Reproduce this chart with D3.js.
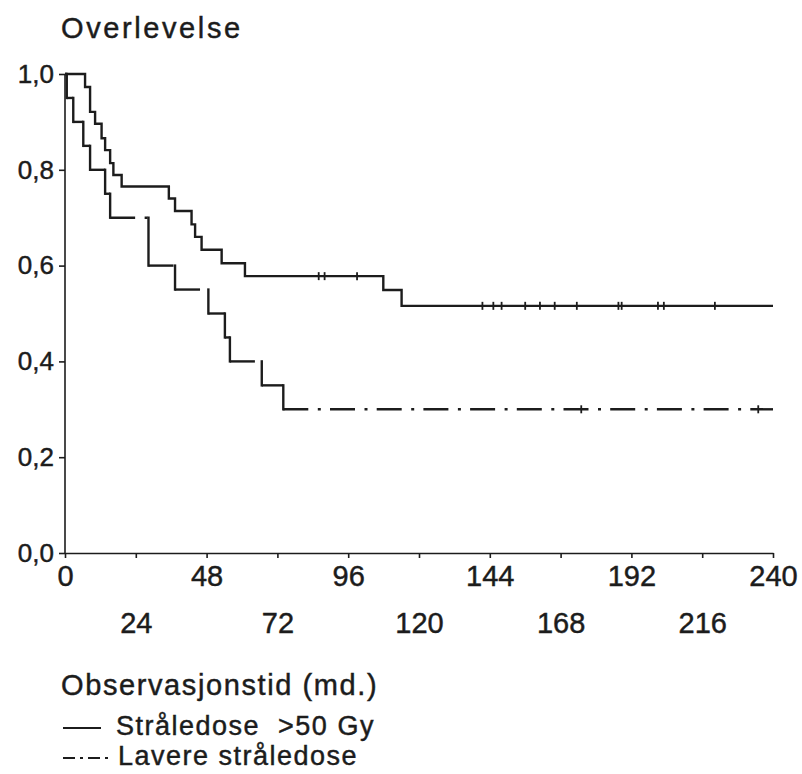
<!DOCTYPE html>
<html>
<head>
<meta charset="utf-8">
<script src="https://cdn.jsdelivr.net/npm/d3@7"></script>
<style>
  body { margin: 0; background: #fff; }
  svg { display: block; font-family: "Liberation Sans", Arial, sans-serif; }
  svg text { fill: #1c1c1c; stroke: #1c1c1c; stroke-width: 0.45px; white-space: pre; }
  .curve { fill: none; stroke: #1c1c1c; stroke-width: 2.4; }
  .axis path, .axis line { stroke: #1c1c1c; stroke-width: 1.6; }
</style>
</head>
<body>
<svg id="chart" width="802" height="774"></svg>
<script>
// survival curves (months, survival proportion)
var highTimes = [6.8, 8.5, 10.2, 12.4, 13.6, 15.3, 16.4, 19.2, 35.2, 37.3, 42.9, 44.1, 46.3, 53.1, 61.0, 107.9, 114.1];
var highSurv  = [0.973, 0.921, 0.896, 0.866, 0.841, 0.814, 0.789, 0.765, 0.740, 0.714, 0.686, 0.660, 0.633, 0.605, 0.578, 0.549, 0.516];
var highCensor = [86, 88, 99, 141.5, 145.2, 148, 156, 161, 166, 173.5, 187.6, 188.7, 201, 203, 220.3];

var lowTimes = [0.6, 2.8, 6.2, 8.5, 13.6, 15.3, 28.3, 37.3, 48.6, 54.2, 55.9, 66.7, 74.0];
var lowSurv  = [0.95, 0.90, 0.85, 0.80, 0.75, 0.70, 0.60, 0.55, 0.50, 0.45, 0.40, 0.35, 0.30];
var lowCensor = [175, 235];

var xTicksTop = [0, 48, 96, 144, 192, 240];
var xTicksBottom = [24, 72, 120, 168, 216];
var yTicks = [0, 0.2, 0.4, 0.6, 0.8, 1.0];

var legendLabels = ["Stråledose  >50 Gy", "Lavere stråledose"];

var svg = d3.select("#chart");
var x = d3.scaleLinear().domain([0, 240]).range([65, 773]);
var y = d3.scaleLinear().domain([0, 1]).range([553, 74]);

// turn event lists into step points
function stepPoints(times, surv) {
    var pts = [[0, 1]];
    times.forEach(function(t, i) { pts.push([t, surv[i]]); });
    pts.push([240, surv[surv.length - 1]]);
    return pts;
}
function survAt(times, surv, t) {
    var s = 1;
    times.forEach(function(tt, i) { if (tt <= t) s = surv[i]; });
    return s;
}

// axes
var yAxis = d3.axisLeft(y)
    .tickValues(yTicks)
    .tickSize(6)
    .tickPadding(5)
    .tickFormat(function(d) { return d3.format(".1f")(d).replace(".", ","); });
svg.append("g")
    .attr("class", "axis")
    .attr("transform", "translate(65,0)")
    .call(yAxis)
    .call(function(g) { g.select(".domain").attr("d", "M0," + y(0) + "V" + y(1)); })
    .selectAll("text").style("font-size", "26px");

svg.append("g")
    .attr("class", "axis")
    .attr("transform", "translate(0,553)")
    .call(d3.axisBottom(x).tickValues(xTicksTop).tickSize(5).tickPadding(7).tickSizeOuter(0))
    .selectAll("text").style("font-size", "29px");

svg.append("g")
    .attr("class", "axis")
    .attr("transform", "translate(0,553)")
    .call(d3.axisBottom(x).tickValues(xTicksBottom).tickSize(5).tickPadding(54))
    .call(function(g) { g.select(".domain").remove(); })
    .selectAll("text").style("font-size", "29px");

// >50 Gy curve, solid
var line = d3.line()
    .x(function(d) { return x(d[0]); })
    .y(function(d) { return y(d[1]); })
    .curve(d3.curveStepAfter);

svg.append("path")
    .datum(stepPoints(highTimes, highSurv))
    .attr("class", "curve")
    .attr("d", line);

// lower dose curve: dash-dot on each flat part, drops drawn solid
var lowPts = stepPoints(lowTimes, lowSurv);
var flats = [];
var drops = [];
for (var i = 0; i < lowPts.length - 1; i++) {
    flats.push([lowPts[i][0], lowPts[i + 1][0], lowPts[i][1]]);
    if (i < lowPts.length - 2) drops.push([lowPts[i + 1][0], lowPts[i][1], lowPts[i + 1][1]]);
}
svg.selectAll(".flat")
    .data(flats)
    .enter().append("line")
    .attr("class", "curve flat")
    .attr("x1", function(d) { return x(d[0]); })
    .attr("x2", function(d) { return x(d[1]); })
    .attr("y1", function(d) { return y(d[2]); })
    .attr("y2", function(d) { return y(d[2]); })
    .style("stroke-dasharray", "25,9.5,3,9.2");
svg.selectAll(".drop")
    .data(drops)
    .enter().append("line")
    .attr("class", "curve drop")
    .attr("x1", function(d) { return x(d[0]); })
    .attr("x2", function(d) { return x(d[0]); })
    .attr("y1", function(d) { return y(d[1]) - 1.2; })
    .attr("y2", function(d) { return y(d[2]) + 1.2; });

// censoring ticks
var censors = highCensor.map(function(t) { return [t, survAt(highTimes, highSurv, t)]; })
    .concat(lowCensor.map(function(t) { return [t, survAt(lowTimes, lowSurv, t)]; }));
svg.selectAll(".censor")
    .data(censors)
    .enter().append("line")
    .attr("class", "curve censor")
    .style("stroke-width", 1.8)
    .attr("x1", function(d) { return x(d[0]); })
    .attr("x2", function(d) { return x(d[0]); })
    .attr("y1", function(d) { return y(d[1]) - 4; })
    .attr("y2", function(d) { return y(d[1]) + 4; });

// titles
svg.append("text")
    .attr("x", 61).attr("y", 38)
    .style("font-size", "29px")
    .style("letter-spacing", "2.6px")
    .text("Overlevelse");

svg.append("text")
    .attr("x", 61).attr("y", 695)
    .style("font-size", "29px")
    .style("letter-spacing", "1.6px")
    .text("Observasjonstid (md.)");

// legend
var legend = svg.selectAll(".legend")
    .data(legendLabels)
    .enter().append("g")
    .attr("class", "legend")
    .attr("transform", function(d, i) { return "translate(0," + (735 + i * 30) + ")"; });

legend.append("line")
    .attr("class", "curve")
    .style("stroke-width", 1.8)
    .attr("x1", 63).attr("x2", function(d, i) { return i ? 108 : 101; })
    .attr("y1", -7).attr("y2", -7)
    .style("stroke-dasharray", function(d, i) { return i ? "12,5,3,5" : null; });

legend.append("text")
    .attr("x", function(d, i) { return i ? 118 : 116; })
    .style("font-size", "27px")
    .style("letter-spacing", "1.5px")
    .text(function(d) { return d; });
</script>
</body>
</html>
